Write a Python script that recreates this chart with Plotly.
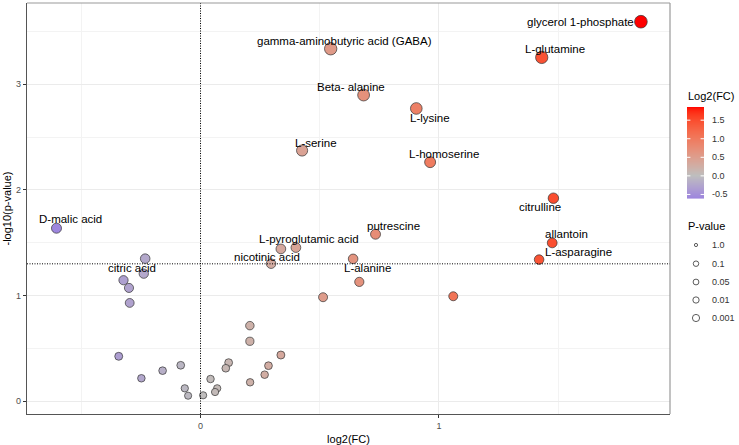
import math
import plotly.graph_objects as go

# ---------------- data ----------------
names = [
    "glycerol 1-phosphate", "L-glutamine", "gamma-aminobutyric acid (GABA)",
    "Beta- alanine", "L-lysine", "L-serine", "L-homoserine", "citrulline",
    "D-malic acid", "putrescine", "allantoin", "L-pyroglutamic acid",
    "nicotinic acid", "L-alanine", "L-asparagine", "citric acid",
    "", "", "", "", "", "", "", "", "", "", "", "", "", "", "", "", "", "",
    "", "", "", "", "", "", "", "",
]
log2fc = [
    1.847, 1.431, 0.546, 0.684, 0.905, 0.426, 0.963, 1.480,
    -0.604, 0.734, 1.475, 0.400, 0.296, 0.640, 1.420, -0.232,
    -0.238, -0.323, -0.300, -0.297, 0.666, 0.514, 1.060, 0.337,
    0.207, 0.207, 0.337, 0.285, 0.269, 0.208, -0.343, -0.083,
    -0.159, -0.248, -0.066, -0.052, 0.011, 0.042, 0.070, 0.061,
    0.118, 0.106,
]
neglog10p = [
    3.592, 3.254, 3.336, 2.898, 2.771, 2.373, 2.263, 1.922,
    1.638, 1.581, 1.499, 1.455, 1.302, 1.348, 1.341, 1.350,
    1.208, 1.146, 1.073, 0.931, 1.130, 0.985, 0.994, 1.442,
    0.716, 0.568, 0.438, 0.337, 0.252, 0.180, 0.426, 0.341,
    0.290, 0.218, 0.123, 0.053, 0.057, 0.211, 0.123, 0.088,
    0.366, 0.313,
]
fc_ticks = [-0.5, 0.0, 0.5, 1.0, 1.5]
fc_ticktext = ["-0.5", "0.0", "0.5", "1.0", "1.5"]
pval_breaks = ["1.0", "0.1", "0.05", "0.01", "0.001"]
p_threshold = 0.05

# ---------------- label offsets (px, relative to point) ----------------
label_offsets = {
    "glycerol 1-phosphate": (-60, 0),
    "L-glutamine": (13, -8),
    "gamma-aminobutyric acid (GABA)": (14, -8),
    "Beta- alanine": (-13, -8),
    "L-lysine": (14, 9.5),
    "L-serine": (14, -8),
    "L-homoserine": (14, -8),
    "citrulline": (-13, 9),
    "D-malic acid": (14, -9),
    "putrescine": (18, -8.5),
    "allantoin": (14, -8.5),
    "L-pyroglutamic acid": (13.5, -8.5),
    "nicotinic acid": (-4, -6.5),
    "L-alanine": (14, 9.5),
    "L-asparagine": (39, -7.5),
    "citric acid": (-13, 9.5),
}

# ---------------- colour scale (Lab interpolation like ggplot) ----------------
def hex2rgb(h):
    h = h.lstrip("#")
    return [int(h[i:i + 2], 16) / 255 for i in (0, 2, 4)]

def rgb2lab(rgb):
    def lin(c):
        return c / 12.92 if c <= 0.04045 else ((c + 0.055) / 1.055) ** 2.4
    r, g, b = [lin(c) for c in rgb]
    X = (0.4124 * r + 0.3576 * g + 0.1805 * b) / 0.95047
    Y = (0.2126 * r + 0.7152 * g + 0.0722 * b)
    Z = (0.0193 * r + 0.1192 * g + 0.9505 * b) / 1.08883
    def f(t):
        return t ** (1 / 3) if t > 0.008856 else 7.787 * t + 16 / 116
    fx, fy, fz = f(X), f(Y), f(Z)
    return [116 * fy - 16, 500 * (fx - fy), 200 * (fy - fz)]

def lab2hex(lab):
    L, a, b = lab
    fy = (L + 16) / 116
    fx = fy + a / 500
    fz = fy - b / 200
    def finv(t):
        return t ** 3 if t ** 3 > 0.008856 else (t - 16 / 116) / 7.787
    X, Y, Z = finv(fx) * 0.95047, finv(fy), finv(fz) * 1.08883
    r = 3.2406 * X - 1.5372 * Y - 0.4986 * Z
    g = -0.9689 * X + 1.8758 * Y + 0.0415 * Z
    bb = 0.0557 * X - 0.2040 * Y + 1.0570 * Z
    def gam(c):
        c = c * 12.92 if c <= 0.0031308 else 1.055 * c ** (1 / 2.4) - 0.055
        return max(0, min(255, round(c * 255)))
    return "#%02x%02x%02x" % (gam(r), gam(g), gam(bb))

low_col, mid_col, high_col = "#9d86de", "#bebebe", "#ff0000"
cmin, cmax = min(log2fc), max(log2fc)
LAB_LOW, LAB_MID, LAB_HIGH = (rgb2lab(hex2rgb(c)) for c in (low_col, mid_col, high_col))

def color_of(v):
    if v < 0:
        t = (v - cmin) / (0 - cmin)
        a, b = LAB_LOW, LAB_MID
    else:
        t = v / cmax
        a, b = LAB_MID, LAB_HIGH
    t = max(0.0, min(1.0, t))
    return lab2hex([a[k] + (b[k] - a[k]) * t for k in range(3)])

point_colors = [color_of(v) for v in log2fc]
sizes = [math.sqrt(50 + 31 * v) for v in neglog10p]

FONT = "Liberation Sans, Arial, sans-serif"

fig = go.Figure()
fig.add_trace(go.Scatter(
    x=log2fc, y=neglog10p, mode="markers",
    marker=dict(size=sizes, color=point_colors, opacity=1,
                line=dict(color="#333333", width=0.7)),
    showlegend=False, hoverinfo="skip",
))

# -------- layout geometry --------
L, R, T, B = 27, 69, 3, 31
W, H = 739, 445
pw, ph = W - L - R, H - T - B

def px2paper_x(px):
    return (px - L) / pw

def px2paper_y(py):
    return (H - B - py) / ph

annotations = []
shapes = []
for n, xv, yv in zip(names, log2fc, neglog10p):
    if n:
        dx, dy = label_offsets[n]
        annotations.append(dict(
            x=xv, y=yv, text=n, showarrow=False, xshift=dx, yshift=-dy,
            font=dict(size=11.5, color="black", family=FONT),
        ))

# -------- colour bar legend (drawn from the colour mapping) --------
cb_x0, cb_x1, cb_top, cb_bot = 687, 704, 107.3, 198.3
annotations.append(dict(
    x=px2paper_x(686), y=px2paper_y(96), xref="paper", yref="paper",
    text="Log2(FC)", showarrow=False, xanchor="left", yanchor="middle",
    font=dict(size=11, color="black", family=FONT),
))
nseg = 91
for i in range(nseg):
    v = cmax - (i + 0.5) / nseg * (cmax - cmin)
    y0 = cb_top + i * (cb_bot - cb_top) / nseg
    y1 = cb_top + (i + 1) * (cb_bot - cb_top) / nseg
    shapes.append(dict(
        type="rect", xref="paper", yref="paper",
        x0=px2paper_x(cb_x0), x1=px2paper_x(cb_x1),
        y0=px2paper_y(y0 - 0.3), y1=px2paper_y(y1 + 0.3),
        fillcolor=color_of(v), line=dict(width=0),
    ))
for v, lab in zip(fc_ticks, fc_ticktext):
    yp = cb_top + (cmax - v) / (cmax - cmin) * (cb_bot - cb_top)
    for xa, xb in ((cb_x0, cb_x0 + 3.4), (cb_x1 - 3.4, cb_x1)):
        shapes.append(dict(type="line", xref="paper", yref="paper",
                           x0=px2paper_x(xa), x1=px2paper_x(xb),
                           y0=px2paper_y(yp), y1=px2paper_y(yp),
                           line=dict(color="white", width=1)))
    annotations.append(dict(
        x=px2paper_x(710), y=px2paper_y(yp), xref="paper", yref="paper",
        text=lab, showarrow=False, xanchor="left", yanchor="middle",
        font=dict(size=9, color="#333333", family=FONT),
    ))

# -------- P-value size legend --------
annotations.append(dict(
    x=px2paper_x(686), y=px2paper_y(226), xref="paper", yref="paper",
    text="P-value", showarrow=False, xanchor="left", yanchor="middle",
    font=dict(size=11, color="black", family=FONT),
))
legend_y = [245, 263.7, 282, 300, 318]
legend_d = [3.2, 5.5, 5.8, 6.3, 7.2]
for lab, ly, d in zip(pval_breaks, legend_y, legend_d):
    shapes.append(dict(
        type="circle", xref="paper", yref="paper",
        xsizemode="pixel", ysizemode="pixel",
        xanchor=px2paper_x(696), yanchor=px2paper_y(ly),
        x0=-d / 2, x1=d / 2, y0=-d / 2, y1=d / 2,
        line=dict(color="#333333", width=0.8), fillcolor="white",
    ))
    annotations.append(dict(
        x=px2paper_x(710), y=px2paper_y(ly), xref="paper", yref="paper",
        text=lab, showarrow=False, xanchor="left", yanchor="middle",
        font=dict(size=9, color="#333333", family=FONT),
    ))

# reference lines
thr = -math.log10(p_threshold)
shapes.append(dict(type="line", xref="x", yref="paper", x0=0, x1=0, y0=0, y1=1,
                   line=dict(color="black", width=1, dash="1px,1.5px")))
shapes.append(dict(type="line", xref="paper", yref="y", x0=0, x1=1, y0=thr, y1=thr,
                   line=dict(color="black", width=1, dash="1px,1.5px")))
# top / right border
shapes.append(dict(type="line", xref="paper", yref="paper", x0=0, x1=1, y0=1, y1=1,
                   line=dict(color="#999999", width=1.2)))
shapes.append(dict(type="line", xref="paper", yref="paper", x0=1, x1=1, y0=0, y1=1,
                   line=dict(color="#999999", width=1.2)))

axis_common = dict(
    showgrid=True, gridcolor="#ebebeb", gridwidth=1, zeroline=False,
    showline=True, linecolor="#555555", linewidth=1.2,
    ticks="outside", ticklen=3, tickcolor="#333333", tickwidth=1,
    tickfont=dict(size=9, color="#4d4d4d", family=FONT),
)
fig.update_layout(
    width=W, height=H,
    margin=dict(l=L, r=R, t=T, b=B, autoexpand=False),
    paper_bgcolor="white", plot_bgcolor="white",
    font=dict(family=FONT),
    xaxis=dict(
        range=[-0.7277, 1.969], tickmode="linear", tick0=0, dtick=1,
        minor=dict(dtick=0.5, showgrid=True, gridcolor="#f3f3f3", gridwidth=0.6),
        title=dict(text="log2(FC)", font=dict(size=11, color="black", family=FONT), standoff=6),
        automargin=False, **axis_common,
    ),
    yaxis=dict(
        range=[-0.120, 3.769], tickmode="linear", tick0=0, dtick=1,
        minor=dict(dtick=0.5, showgrid=True, gridcolor="#f3f3f3", gridwidth=0.6),
        title=dict(text="-log10(p-value)", font=dict(size=11, color="black", family=FONT), standoff=2),
        automargin=False, **axis_common,
    ),
    annotations=annotations, shapes=shapes,
)

fig.write_html("out.html")
